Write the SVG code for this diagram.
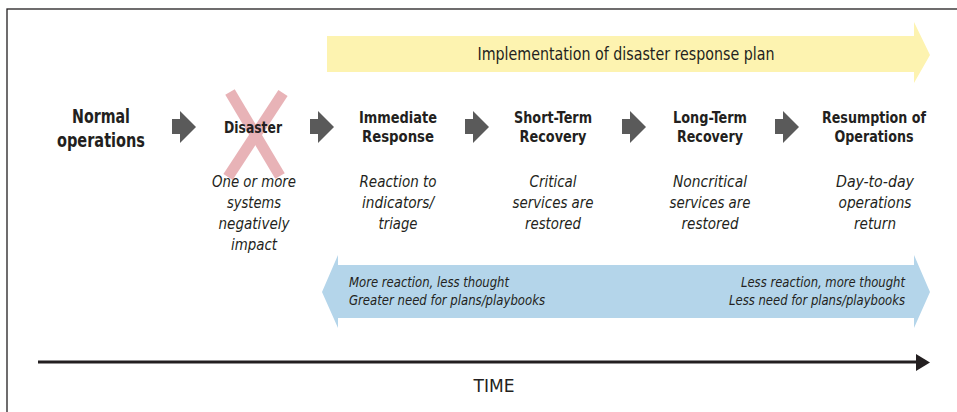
<svg xmlns="http://www.w3.org/2000/svg" width="957" height="412" viewBox="0 0 957 412">
<style>
.h{font-family:"Liberation Sans Narrow","DejaVu Sans Condensed","Liberation Sans",sans-serif;font-weight:bold;fill:#231f20;text-anchor:middle}
.it{font-family:"Liberation Sans Narrow","DejaVu Sans Condensed","Liberation Sans",sans-serif;font-style:italic;fill:#231f20;text-anchor:middle;font-size:16px}
.bl{font-family:"Liberation Sans Narrow","DejaVu Sans Condensed","Liberation Sans",sans-serif;font-style:italic;fill:#231f20;font-size:14px}
.step{fill:#5a5a5a}
</style>
<defs>
<path id="garrow" d="M0,8 H8 V0 L24,16 L8,32 V23 H0 Z"/>
</defs>
<rect x="7" y="9" width="1000" height="500" fill="#fff" stroke="#231f20" stroke-width="1.3"/>

<g id="plan-arrow">
<path d="M327,36 H914 V22 L930,55 L914,83 V72 H327 Z" fill="#fdf3b0"/>
<text class="h" x="626" y="60" font-size="18" textLength="297" lengthAdjust="spacingAndGlyphs" style="font-weight:normal">Implementation of disaster response plan</text>
</g>

<g id="spectrum-arrow">
<path d="M322,292 L338,255 V265 H914 V255 L930,292 L914,328 V318 H338 V328 Z" fill="#b4d5ea"/>
<text class="bl" x="349" y="287" textLength="160" lengthAdjust="spacingAndGlyphs">More reaction, less thought</text>
<text class="bl" x="349" y="305" textLength="196" lengthAdjust="spacingAndGlyphs">Greater need for plans/playbooks</text>
<text class="bl" x="905" y="287" text-anchor="end" textLength="164" lengthAdjust="spacingAndGlyphs">Less reaction, more thought</text>
<text class="bl" x="905" y="305" text-anchor="end" textLength="176" lengthAdjust="spacingAndGlyphs">Less need for plans/playbooks</text>
</g>

<g id="connectors">
<use href="#garrow" class="step" x="172" y="111"/>
<use href="#garrow" class="step" x="310" y="111"/>
<use href="#garrow" class="step" x="465" y="111"/>
<use href="#garrow" class="step" x="622" y="111"/>
<use href="#garrow" class="step" x="775" y="111"/>
</g>

<g id="normal">
<text class="h" x="101" y="123" font-size="20" textLength="58" lengthAdjust="spacingAndGlyphs">Normal</text>
<text class="h" x="101" y="147" font-size="20" textLength="88" lengthAdjust="spacingAndGlyphs">operations</text>
</g>

<g id="disaster">
<g stroke="#e8b3b7" stroke-width="11" stroke-linecap="butt">
<line x1="230" y1="92" x2="280" y2="176"/>
<line x1="283" y1="93" x2="228" y2="177"/>
</g>
<text class="h" x="253" y="133" font-size="16" textLength="58" lengthAdjust="spacingAndGlyphs">Disaster</text>
<text class="it" x="254" y="187" textLength="84" lengthAdjust="spacingAndGlyphs">One or more</text>
<text class="it" x="254" y="208" textLength="54" lengthAdjust="spacingAndGlyphs">systems</text>
<text class="it" x="254" y="229" textLength="71" lengthAdjust="spacingAndGlyphs">negatively</text>
<text class="it" x="254" y="250" textLength="46" lengthAdjust="spacingAndGlyphs">impact</text>
</g>

<g id="immediate">
<text class="h" x="398" y="123" font-size="16" textLength="78" lengthAdjust="spacingAndGlyphs">Immediate</text>
<text class="h" x="398" y="142" font-size="16" textLength="72" lengthAdjust="spacingAndGlyphs">Response</text>
<text class="it" x="398" y="187" textLength="77" lengthAdjust="spacingAndGlyphs">Reaction to</text>
<text class="it" x="398" y="208" textLength="72" lengthAdjust="spacingAndGlyphs">indicators/</text>
<text class="it" x="398" y="229" textLength="39" lengthAdjust="spacingAndGlyphs">triage</text>
</g>

<g id="short-term">
<text class="h" x="553" y="123" font-size="16" textLength="78" lengthAdjust="spacingAndGlyphs">Short-Term</text>
<text class="h" x="553" y="142" font-size="16" textLength="67" lengthAdjust="spacingAndGlyphs">Recovery</text>
<text class="it" x="553" y="187" textLength="47" lengthAdjust="spacingAndGlyphs">Critical</text>
<text class="it" x="553" y="208" textLength="81" lengthAdjust="spacingAndGlyphs">services are</text>
<text class="it" x="553" y="229" textLength="56" lengthAdjust="spacingAndGlyphs">restored</text>
</g>

<g id="long-term">
<text class="h" x="710" y="123" font-size="16" textLength="74" lengthAdjust="spacingAndGlyphs">Long-Term</text>
<text class="h" x="710" y="142" font-size="16" textLength="66" lengthAdjust="spacingAndGlyphs">Recovery</text>
<text class="it" x="710" y="187" textLength="74" lengthAdjust="spacingAndGlyphs">Noncritical</text>
<text class="it" x="710" y="208" textLength="81" lengthAdjust="spacingAndGlyphs">services are</text>
<text class="it" x="710" y="229" textLength="57" lengthAdjust="spacingAndGlyphs">restored</text>
</g>

<g id="resumption">
<text class="h" x="874" y="123" font-size="16" textLength="104" lengthAdjust="spacingAndGlyphs">Resumption of</text>
<text class="h" x="874" y="142" font-size="16" textLength="79" lengthAdjust="spacingAndGlyphs">Operations</text>
<text class="it" x="875" y="187" textLength="78" lengthAdjust="spacingAndGlyphs">Day-to-day</text>
<text class="it" x="875" y="208" textLength="73" lengthAdjust="spacingAndGlyphs">operations</text>
<text class="it" x="875" y="229" textLength="42" lengthAdjust="spacingAndGlyphs">return</text>
</g>

<g id="time">
<line x1="38" y1="362" x2="918" y2="362" stroke="#231f20" stroke-width="3"/>
<path d="M916,354 L930,362.5 L916,371 Z" fill="#231f20"/>
<text class="h" x="494" y="392" font-size="18" textLength="41" lengthAdjust="spacingAndGlyphs" style="font-weight:normal">TIME</text>
</g>
</svg>
